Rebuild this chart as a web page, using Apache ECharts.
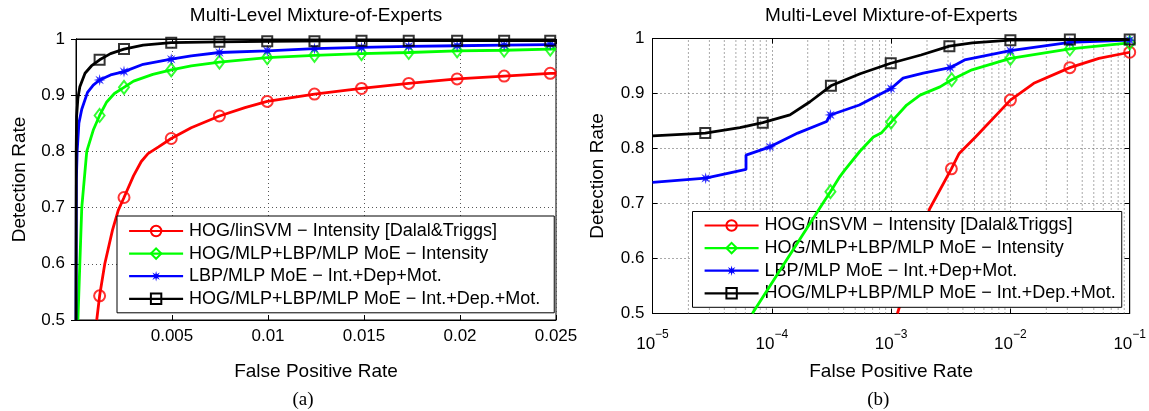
<!DOCTYPE html>
<html><head><meta charset="utf-8">
<script src="https://cdn.jsdelivr.net/npm/echarts@6/dist/echarts.min.js"></script>
<style>html,body{margin:0;padding:0;background:#fff}#c{width:1149px;height:411px}</style>
</head><body><div id="c"></div>
<script>
// ---------- data ----------
const TITLE = 'Multi-Level Mixture-of-Experts';
const X_NAME = 'False Positive Rate';
const Y_NAME = 'Detection Rate';
const PANEL_LABELS = ['(a)', '(b)'];
const SERIES_NAMES = [
  'HOG/linSVM − Intensity [Dalal&Triggs]',
  'HOG/MLP+LBP/MLP MoE − Intensity',
  'LBP/MLP MoE − Int.+Dep+Mot.',
  'HOG/MLP+LBP/MLP MoE − Int.+Dep.+Mot.'
];
const X_TICKS_A = [0, 0.005, 0.01, 0.015, 0.02, 0.025];
const Y_TICKS = [0.5, 0.6, 0.7, 0.8, 0.9, 1];
const X_TICKS_B = [1e-5, 1e-4, 1e-3, 1e-2, 1e-1];

// panel (a): linear FPR
const A_RED = [[0.00108,0.5],[0.00123,0.543],[0.0015,0.6],[0.0019,0.66],[0.0022,0.695],[0.0025,0.718],[0.003,0.757],[0.0034,0.782],[0.00375,0.796],[0.0043,0.808],[0.00496,0.823],[0.006,0.842],[0.00747,0.863],[0.0088,0.878],[0.00996,0.889],[0.01242,0.902],[0.01487,0.912],[0.01733,0.921],[0.01985,0.929],[0.0223,0.934],[0.0247,0.939],[0.025,0.939]];
const A_RED_MK = [[0.00123,0.543],[0.0025,0.718],[0.00496,0.823],[0.00747,0.863],[0.00996,0.889],[0.01242,0.902],[0.01487,0.912],[0.01733,0.921],[0.01985,0.929],[0.0223,0.934],[0.0247,0.939]];
const A_GREEN = [[0.0001,0.5],[0.0002,0.6],[0.0003,0.7],[0.00056,0.8],[0.0009,0.838],[0.00123,0.864],[0.0016,0.888],[0.002,0.903],[0.0025,0.914],[0.003,0.925],[0.004,0.937],[0.00496,0.945],[0.006,0.952],[0.00747,0.959],[0.00996,0.967],[0.01242,0.971],[0.01487,0.974],[0.01733,0.976],[0.01985,0.979],[0.0223,0.98],[0.0247,0.982],[0.025,0.982]];
const A_GREEN_MK = [[0.00123,0.864],[0.0025,0.914],[0.00496,0.945],[0.00747,0.959],[0.00996,0.967],[0.01242,0.971],[0.01487,0.974],[0.01733,0.976],[0.01985,0.979],[0.0223,0.98],[0.0247,0.982]];
const A_BLUE = [[0,0.5],[0.00002,0.75],[0.00006,0.8],[0.00015,0.85],[0.0003,0.875],[0.0006,0.905],[0.0009,0.918],[0.00123,0.927],[0.0018,0.936],[0.0025,0.942],[0.0035,0.955],[0.00496,0.964],[0.006,0.97],[0.00747,0.976],[0.00996,0.979],[0.01242,0.983],[0.01487,0.985],[0.01733,0.987],[0.01985,0.988],[0.0223,0.989],[0.0247,0.99],[0.025,0.99]];
const A_BLUE_MK = [[0.00123,0.927],[0.0025,0.942],[0.00496,0.964],[0.00747,0.976],[0.00996,0.979],[0.01242,0.983],[0.01487,0.985],[0.01733,0.987],[0.01985,0.988],[0.0223,0.989],[0.0247,0.99]];
const A_BLACK = [[0,0.5],[0.00001,0.8],[0.00003,0.862],[0.0001,0.895],[0.0002,0.915],[0.00047,0.939],[0.0008,0.952],[0.00123,0.963],[0.0018,0.974],[0.0025,0.982],[0.0035,0.989],[0.00496,0.9935],[0.00747,0.995],[0.00996,0.996],[0.01487,0.997],[0.0247,0.997],[0.025,0.997]];
const A_BLACK_MK = [[0.00123,0.963],[0.0025,0.982],[0.00496,0.9935],[0.00747,0.995],[0.00996,0.996],[0.01242,0.996],[0.01487,0.997],[0.01733,0.997],[0.01985,0.997],[0.0223,0.997],[0.0247,0.997]];

// panel (b): log FPR
const B_RED = [[1.13e-3,0.5],[2.1e-3,0.69],[3.2e-3,0.763],[3.72e-3,0.791],[5.1e-3,0.821],[1e-2,0.888],[1.57e-2,0.9185],[3.15e-2,0.947],[5.52e-2,0.964],[1e-1,0.975]];
const B_RED_MK = [[3.2e-3,0.763],[1e-2,0.888],[3.15e-2,0.947],[1e-1,0.975]];
const B_GREEN = [[6.87e-5,0.5],[2.73e-4,0.703],[3.1e-4,0.7215],[3.72e-4,0.749],[4.1e-4,0.761],[5.48e-4,0.795],[7.1e-4,0.821],[8.26e-4,0.828],[1e-3,0.848],[1.35e-3,0.879],[1.75e-3,0.897],[2.57e-3,0.912],[3.22e-3,0.925],[4.76e-3,0.943],[1e-2,0.964],[3.15e-2,0.981],[1e-1,0.992]];
const B_GREEN_MK = [[3.1e-4,0.7215],[1e-3,0.848],[3.22e-3,0.925],[1e-2,0.964],[3.15e-2,0.981],[1e-1,0.992]];
const B_BLUE = [[1e-5,0.7385],[2.79e-5,0.746],[6.08e-5,0.762],[6.08e-5,0.788],[6.3e-5,0.791],[9.66e-5,0.803],[1.65e-4,0.828],[2.88e-4,0.849],[3.1e-4,0.861],[5.42e-4,0.879],[1e-3,0.909],[1.26e-3,0.928],[1.86e-3,0.937],[3.13e-3,0.947],[4.13e-3,0.961],[1e-2,0.978],[3.15e-2,0.993],[1e-1,0.997]];
const B_BLUE_MK = [[2.79e-5,0.746],[9.66e-5,0.803],[3.1e-4,0.861],[1e-3,0.909],[3.13e-3,0.947],[1e-2,0.978],[3.15e-2,0.993],[1e-1,0.997]];
const B_BLACK = [[1e-5,0.823],[2.77e-5,0.828],[5.4e-5,0.838],[8.4e-5,0.847],[1.42e-4,0.861],[2.09e-4,0.885],[3.13e-4,0.914],[5.5e-4,0.936],[9.93e-4,0.955],[1.78e-3,0.97],[3.08e-3,0.986],[4.8e-3,0.992],[1e-2,0.997],[3.15e-2,0.998],[1e-1,0.998]];
const B_BLACK_MK = [[2.77e-5,0.828],[8.4e-5,0.847],[3.13e-4,0.914],[9.93e-4,0.955],[3.08e-3,0.986],[1e-2,0.997],[3.15e-2,0.998],[1e-1,0.998]];

// ---------- styles ----------
const FONT = "'Liberation Sans', Arial, Helvetica, sans-serif";
const COLORS = ['#ff0000', '#00ff00', '#0000ff', '#000000'];
function starPath() {
  let s = 'path://';
  for (let i = 0; i < 16; i++) {
    const a = i * Math.PI / 8 - Math.PI / 2;
    const r = (i % 2) ? 4 : 10;
    const x = (10 + r * Math.cos(a)).toFixed(2), y = (10 + r * Math.sin(a)).toFixed(2);
    s += (i === 0 ? 'M' : 'L') + x + ' ' + y + ' ';
  }
  return s + 'Z';
}
const SYMBOLS = ['circle', 'diamond', starPath(), 'rect'];
const SYM_SIZE = [11, [10, 13], 12, 10];
function markStyle(i) {
  return i === 2 ? { color: COLORS[i], borderWidth: 0 } :
    { color: 'transparent', borderColor: COLORS[i], borderWidth: 2 };
}
const LINES = [[A_RED, A_GREEN, A_BLUE, A_BLACK], [B_RED, B_GREEN, B_BLUE, B_BLACK]];
const MARKS = [[A_RED_MK, A_GREEN_MK, A_BLUE_MK, A_BLACK_MK], [B_RED_MK, B_GREEN_MK, B_BLUE_MK, B_BLACK_MK]];

const GRIDS = [
  { left: 76, top: 39, width: 480, height: 281 },
  { left: 652.5, top: 38.5, width: 477.5, height: 275 }
];
const DOT = { color: '#555', width: 1, type: [1, 3] };
const dotted = { show: true, lineStyle: DOT };
const axisLineBlack = { show: true, lineStyle: { color: '#000', width: 1 } };
const tickIn = { show: true, inside: true, length: 5, lineStyle: { color: '#000' } };

const sup = { '-1': '−1', '-2': '−2', '-3': '−3', '-4': '−4', '-5': '−5' };

const series = [];
// minor log grid lines for panel (b), drawn through the log axis
for (let e = -5; e < -1; e++) {
  for (let k = 2; k <= 9; k++) {
    const v = k * Math.pow(10, e);
    series.push({
      type: 'line', xAxisIndex: 1, yAxisIndex: 1, data: [[v, 0.5], [v, 1]],
      symbol: 'none', lineStyle: DOT, silent: true, z: 1, animation: false
    });
  }
}
for (let p = 0; p < 2; p++) {
  for (let i = 0; i < 4; i++) {
    series.push({
      type: 'line', name: SERIES_NAMES[i], xAxisIndex: p, yAxisIndex: p,
      data: LINES[p][i], symbol: SYMBOLS[i], symbolSize: SYM_SIZE[i], showSymbol: false,
      lineStyle: { color: COLORS[i], width: 2.8 }, itemStyle: markStyle(i),
      z: 3 + i, silent: true, animation: false
    });
    series.push({
      type: 'scatter', name: 'mk' + p + i, xAxisIndex: p, yAxisIndex: p,
      data: MARKS[p][i], symbol: SYMBOLS[i], symbolSize: SYM_SIZE[i],
      itemStyle: markStyle(i), clip: false, z: 3 + i, silent: true, animation: false
    });
  }
}

const labelStyle = { color: '#000', fontSize: 17, fontFamily: FONT };
const option = {
  animation: false,
  backgroundColor: '#fff',
  textStyle: { fontFamily: FONT },
  title: [0, 1].map(p => ({
    text: TITLE, left: GRIDS[p].left + GRIDS[p].width / 2, top: 6, textAlign: 'center', padding: 0,
    textStyle: { fontSize: 19, fontWeight: 'normal', color: '#000', fontFamily: FONT }
  })).concat([0, 1].map(p => ({
    text: PANEL_LABELS[p], left: GRIDS[p].left + GRIDS[p].width / 2 - 13, top: 391, textAlign: 'center', padding: 0,
    textStyle: { fontSize: 19, fontWeight: 'normal', color: '#000', fontFamily: "'Liberation Serif', 'Times New Roman', serif" }
  }))),
  grid: GRIDS.map(g => Object.assign({ show: true, borderColor: '#000', borderWidth: 1, backgroundColor: 'transparent' }, g)),
  legend: [
    { left: 117, top: 216, padding: [6, 14, 5, 11] },
    { left: 692.5, top: 211.5, padding: [5, 6, 5, 11] }
  ].map(pos => Object.assign({
    data: SERIES_NAMES, orient: 'vertical', itemWidth: 54, itemHeight: 13, itemGap: 4.6,
    borderColor: '#000', borderWidth: 1, backgroundColor: '#fff',
    selectedMode: false, textStyle: { color: '#000', fontSize: 18, lineHeight: 18, fontFamily: FONT, padding: [0, 0, 0, 1] },
    lineStyle: { width: 2.2 }
  }, pos)),
  xAxis: [
    {
      type: 'value', gridIndex: 0, min: 0, max: 0.025, interval: 0.005,
      axisLine: axisLineBlack, axisTick: tickIn,
      axisLabel: Object.assign({ margin: 8, formatter: v => (v === 0 ? '' : String(+v.toFixed(3))) }, labelStyle),
      splitLine: dotted,
      name: X_NAME, nameLocation: 'middle', nameGap: 42,
      nameTextStyle: { color: '#000', fontSize: 19, fontFamily: FONT }
    },
    {
      type: 'log', logBase: 10, gridIndex: 1, min: 1e-5, max: 1e-1,
      axisLine: axisLineBlack, axisTick: tickIn,
      axisLabel: {
        margin: 15,
        formatter: v => '{b|10}{e|' + sup[String(Math.round(Math.log10(v)))] + '}',
        rich: {
          b: { fontSize: 17, color: '#000', fontFamily: FONT, lineHeight: 24, verticalAlign: 'bottom' },
          e: { fontSize: 12, color: '#000', fontFamily: FONT, lineHeight: 12, verticalAlign: 'top' }
        }
      },
      splitLine: dotted,
      name: X_NAME, nameLocation: 'middle', nameGap: 49,
      nameTextStyle: { color: '#000', fontSize: 19, fontFamily: FONT }
    },
    { type: 'value', gridIndex: 0, position: 'top', min: 0, max: 0.025, interval: 0.005,
      axisLine: axisLineBlack, axisTick: tickIn, axisLabel: { show: false }, splitLine: { show: false } },
    { type: 'log', logBase: 10, gridIndex: 1, position: 'top', min: 1e-5, max: 1e-1,
      axisLine: axisLineBlack, axisTick: tickIn, axisLabel: { show: false }, splitLine: { show: false } }
  ],
  yAxis: [0, 1].map(p => ({
    type: 'value', gridIndex: p, min: Y_TICKS[0], max: Y_TICKS[Y_TICKS.length - 1], interval: 0.1,
    axisLine: axisLineBlack, axisTick: tickIn,
    axisLabel: Object.assign({ margin: p === 0 ? 11 : 8, formatter: v => String(+v.toFixed(1)) }, labelStyle),
    splitLine: dotted,
    name: Y_NAME, nameLocation: 'middle', nameGap: p === 0 ? 47 : 45, nameRotate: 90,
    nameTextStyle: { color: '#000', fontSize: 19, fontFamily: FONT }
  })).concat([0, 1].map(p => ({
    type: 'value', gridIndex: p, position: 'right', min: 0.5, max: 1, interval: 0.1,
    axisLine: axisLineBlack, axisTick: tickIn, axisLabel: { show: false }, splitLine: { show: false }
  }))),
  series: series
};
const chart = echarts.init(document.getElementById('c'), null, { renderer: 'canvas' });
chart.setOption(option);
</script>
</body></html>
